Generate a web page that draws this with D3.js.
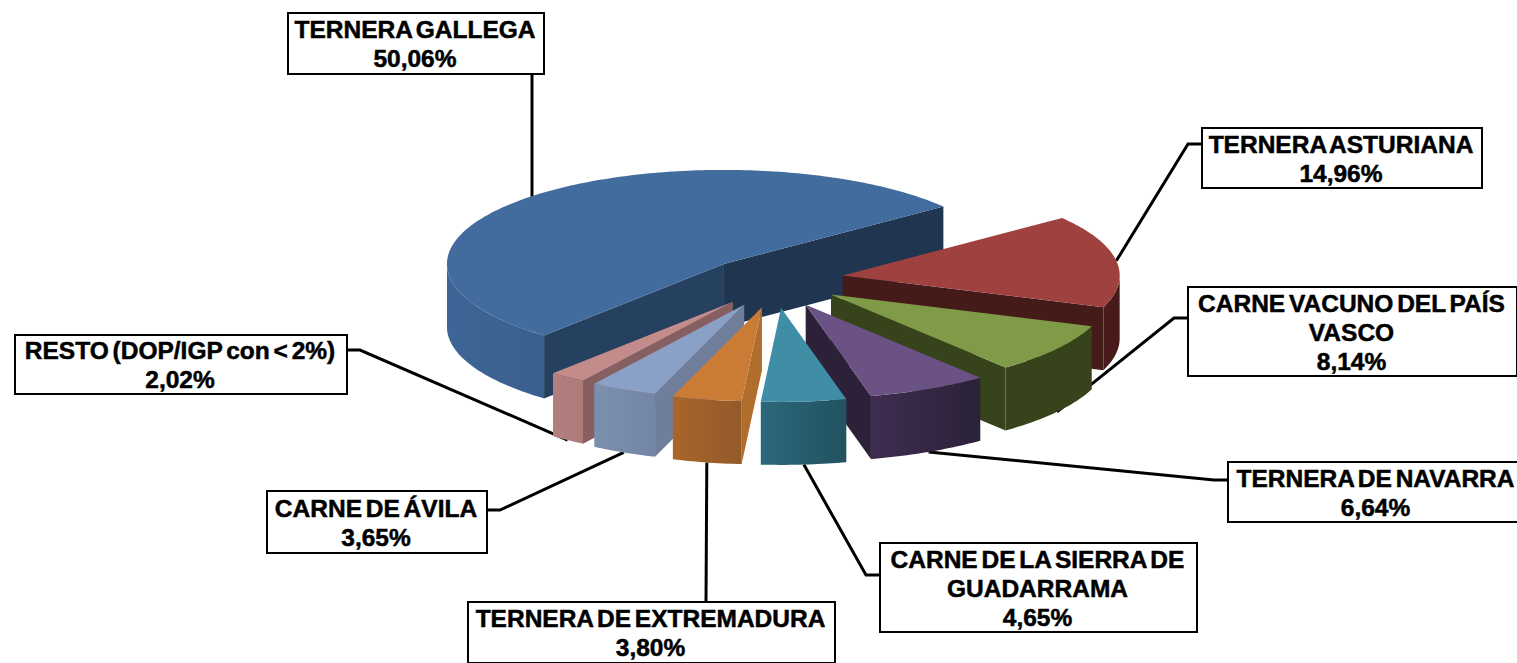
<!DOCTYPE html>
<html>
<head>
<meta charset="utf-8">
<style>
    html, body { margin: 0; padding: 0; background: #fff; overflow: hidden; }
    text { font-family: "Liberation Sans", Arial, sans-serif; font-weight: bold; font-size: 24.5px; fill: #000; stroke: #000; stroke-width: 0.5px; word-spacing: -3px; }
</style>
<script src="https://cdn.jsdelivr.net/npm/d3@7"></script>
</head>
<body>
<svg id="chart" width="1517" height="663"></svg>
<script>
'use strict'

// slices in pie order, clockwise from the big one
const categories = [
    ['TERNERA GALLEGA'],
    ['TERNERA ASTURIANA'],
    ['CARNE VACUNO DEL PAÍS', 'VASCO'],
    ['TERNERA DE NAVARRA'],
    ['CARNE DE LA SIERRA DE', 'GUADARRAMA'],
    ['TERNERA DE EXTREMADURA'],
    ['CARNE DE ÁVILA'],
    ['RESTO (DOP/IGP con < 2%)'],
]
const shares = [50.06, 14.96, 8.14, 6.64, 4.65, 3.8, 3.65, 2.02]

// how far each slice is pulled out, the big one a bit more
const explosion = [1.1, 1, 1, 1, 1, 1, 1.06, 1.05]

// colours
const topColors = ['#426b9e', '#9f413f', '#7f9b48', '#6b5285', '#3f8ea6', '#ca7c37', '#8ba0c6', '#c38b89']
const cutStartColors = ['#26405f', '#451b19', '#37441b', '#2c2138', '#225565', '#b06d2c', '#6f7f9b', '#866060']
const cutEndColors = ['#203550', '#451b19', '#37441b', '#2c2138', '#225565', '#b06d2c', '#6f7f9b', '#866060']
const rimFrom = ['#3d6696', '#4a1c1b', '#37441b', '#3f2d50', '#2b677b', '#a9652b', '#7b8fae', '#b38080']
const rimTo = ['#3a5f8e', '#451a19', '#37441b', '#2b2139', '#22525f', '#935a2a', '#7486a6', '#ad7a78']

// label boxes: x, y, w, h, then the elbow of the leader where the line leaves the box
const boxes = [
    [288, 13, 256, 61],
    [1202, 128, 280, 60],
    [1188, 287, 329, 89],
    [1228, 462, 297, 60],
    [880, 543, 317, 89],
    [468, 602, 367, 61],
    [267, 491, 220, 62],
    [15, 335, 332, 59],
]
const leaderStart = [
    [532, 74],
    [1202, 144],
    [1188, 318],
    [1228, 480],
    [880, 575],
    [706, 602],
    [487, 510],
    [347, 350],
]
const leaderElbow = [
    null,
    [1188, 144],
    [1174, 318],
    [1214, 480],
    [866, 575],
    null,
    [500, 510],
    [360, 350],
]

// projection of the tilted pie
const center = { x: 775.5, y: 276 }
const rx = 277
const ry = 94
const depth = 63
const explodeX = 68
const explodeNear = 32
const explodeFar = 23
const firstAngle = (220.5 * Math.PI) / 180

const svg = d3.select('#chart')
const defs = svg.append('defs')

const pie = d3
    .pie()
    .sort(null)
    .startAngle(firstAngle)
    .endAngle(firstAngle + 2 * Math.PI)
    .value((d) => d)

const slices = pie(shares).map((d) => {
    // d3 measures from 12 o'clock, the ellipse from 3 o'clock
    const t0 = d.startAngle - Math.PI / 2
    const t1 = d.endAngle - Math.PI / 2
    const mid = (t0 + t1) / 2
    const sy = Math.sin(mid)
    const e = explosion[d.index]
    return {
        index: d.index,
        t0,
        t1,
        mid,
        apex: [
            center.x + e * explodeX * Math.cos(mid),
            // far side is foreshortened, so it moves much less
            center.y + (sy > 0 ? explodeNear * sy : explodeFar * sy * Math.abs(sy)),
        ],
    }
})

const rimPoint = (s, t) => [s.apex[0] + rx * Math.cos(t), s.apex[1] + ry * Math.sin(t)]
const drop = (p) => [p[0], p[1] + depth]
const line = d3.line()

function arcPoints(s, a, b) {
    const n = Math.max(2, Math.ceil(((b - a) * 180) / Math.PI))
    return d3.range(n + 1).map((i) => rimPoint(s, a + ((b - a) * i) / n))
}

// leaders go under the slices
const leaders = svg.append('g').attr('fill', 'none').attr('stroke', '#000').attr('stroke-width', 3)
slices.forEach((s) => {
    let end = rimPoint(s, s.mid)
    if (Math.sin(s.mid) > 0.5) end = drop(end)
    const pts = [leaderStart[s.index]]
    if (leaderElbow[s.index]) pts.push(leaderElbow[s.index])
    // the gallega leader drops straight down
    else if (s.index === 0) end = [leaderStart[0][0], end[1] + 3]
    pts.push(end)
    leaders.append('path').attr('d', line(pts))
})

function drawSlice(g, s) {
    const i = s.index
    const start = rimPoint(s, s.t0)
    const end = rimPoint(s, s.t1)

    const grad = defs.append('linearGradient').attr('id', 'rim' + i)
    grad.append('stop').attr('offset', 0).attr('stop-color', rimFrom[i])
    grad.append('stop').attr('offset', 1).attr('stop-color', rimTo[i])

    // cut faces, only the ones turned towards the viewer
    const cuts = [
        [s.apex, start, cutStartColors[i]],
        [end, s.apex, cutEndColors[i]],
    ]
    cuts.forEach(([p, q, color]) => {
        if (q[0] - p[0] < 0) {
            g.append('path')
                .attr('d', line([p, q, drop(q), drop(p)]) + 'Z')
                .attr('fill', color)
        }
    })

    // outer wall, lower half of the ellipse only
    ;[0, 2 * Math.PI].forEach((k) => {
        const a = Math.max(s.t0, k)
        const b = Math.min(s.t1, k + Math.PI)
        if (b <= a) return
        const top = arcPoints(s, a, b)
        g.append('path')
            .attr('d', line(top.concat(top.map(drop).reverse())) + 'Z')
            .attr('fill', `url(#rim${i})`)
    })

    // top face
    g.append('path')
        .attr('d', line([s.apex].concat(arcPoints(s, s.t0, s.t1))) + 'Z')
        .attr('fill', topColors[i])
}

// painter's order: back first, then in from both sides towards the front
const order = [0, 1, 2, 3, 7, 6, 5, 4]
const pieGroup = svg.append('g')
order.forEach((i) => drawSlice(pieGroup.append('g'), slices[i]))

// labels
const fmt = d3.formatLocale({ decimal: ',', thousands: '.', grouping: [3], currency: ['', '%'] }).format('.2f')
const labels = svg.append('g')
categories.forEach((lines, i) => {
    const [x, y, w, h] = boxes[i]
    const g = labels.append('g')
    g.append('rect')
        .attr('x', x)
        .attr('y', y)
        .attr('width', w)
        .attr('height', h)
        .attr('fill', '#fff')
        .attr('stroke', '#000')
        .attr('stroke-width', 2)
    const all = lines.concat(fmt(shares[i]) + '%')
    const lineH = 29
    const firstY = y + h / 2 - ((all.length - 1) * lineH) / 2 + 9
    g.selectAll('text')
        .data(all)
        .enter()
        .append('text')
        .attr('x', x + w / 2 - 1)
        .attr('y', (d, j) => firstY + j * lineH)
        .attr('text-anchor', 'middle')
        .text((d) => d)
})
</script>
</body>
</html>
